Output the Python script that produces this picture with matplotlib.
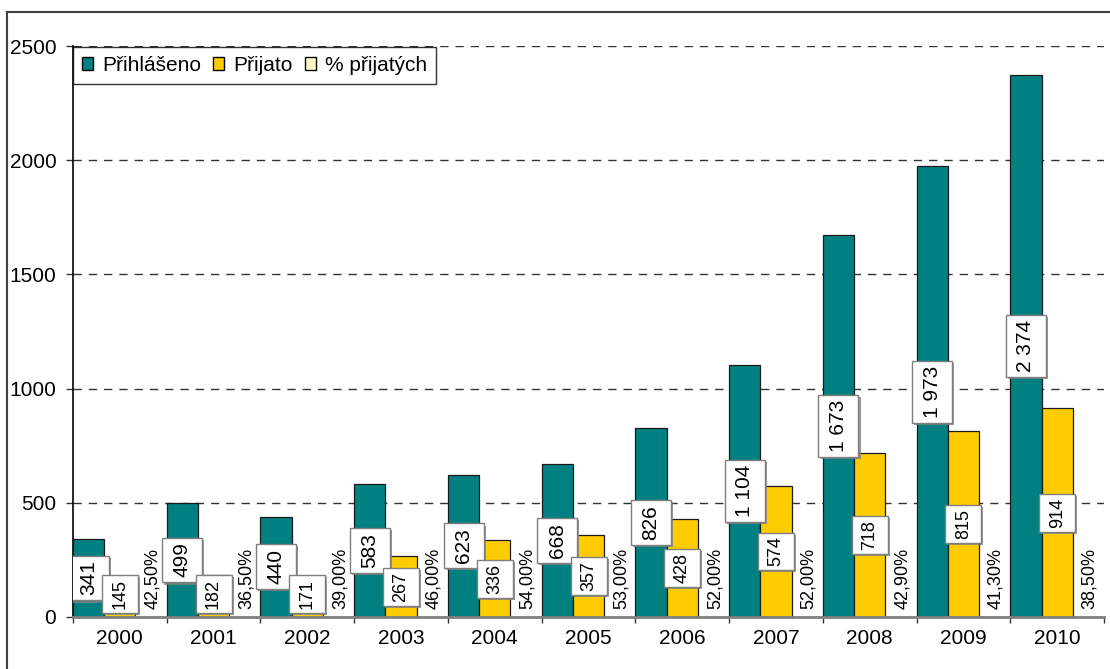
import matplotlib
matplotlib.use("Agg")
import matplotlib.pyplot as plt
import matplotlib.patheffects as pe
from matplotlib.lines import Line2D
from matplotlib.patches import Patch, Rectangle
from matplotlib.transforms import ScaledTranslation
import numpy as np

plt.rcParams['font.family'] = ['Liberation Sans', 'DejaVu Sans']

years = ['2000', '2001', '2002', '2003', '2004', '2005', '2006', '2007', '2008', '2009', '2010']
prihlaseno = [341, 499, 440, 583, 623, 668, 826, 1104, 1673, 1973, 2374]
prijato = [145, 182, 171, 267, 336, 357, 428, 574, 718, 815, 914]
procenta = [0.425, 0.365, 0.39, 0.46, 0.54, 0.53, 0.52, 0.52, 0.429, 0.413, 0.385]
series_names = ['Přihlášeno', 'Přijato', '% přijatých']
yticks = [0, 500, 1000, 1500, 2000, 2500]

c_teal = '#008080'
c_gold = '#FFCC00'
c_pale = '#FFFFCC'

fs_teal, fs_gold, fs_pct = 15, 13, 13

W, H = 1110, 669
DPI = 100
fig = plt.figure(figsize=(W / DPI, H / DPI), dpi=DPI)
ax = fig.add_axes([73 / W, 1 - 617 / H, (1104 - 73) / W, (617 - 46) / H])

n = len(years)
x = np.arange(n)
bw = 1 / 3
left = x - 0.5
ax.bar(left, prihlaseno, width=bw, align='edge', color=c_teal, edgecolor='#1a1a1a', linewidth=0.9, zorder=3)
ax.bar(left + bw, prijato, width=bw, align='edge', color=c_gold, edgecolor='#1a1a1a', linewidth=0.9, zorder=3)
ax.bar(left + 2 * bw, procenta, width=bw, align='edge', color=c_pale, edgecolor='#1a1a1a', linewidth=0.9, zorder=3)

ax.set_xlim(-0.5, n - 0.5)
ax.set_ylim(0, 2500)
ax.set_autoscale_on(False)

ax.set_yticks(yticks)
ax.set_yticklabels([str(v) for v in yticks], fontsize=15)
ax.set_xticks(x)
ax.set_xticklabels(years, fontsize=15)
ax.tick_params(axis='x', length=0, pad=9)
ax.set_xticks(np.arange(n + 1) - 0.5, minor=True)
ax.tick_params(axis='x', which='minor', length=4.5, width=1, color='#333333')
ax.tick_params(axis='y', length=5, width=1, color='#333333', pad=7)

for v in yticks[1:]:
    ax.axhline(v, color='#333333', linewidth=1, dashes=(6, 5), zorder=1)

for s in ['top', 'right']:
    ax.spines[s].set_visible(False)
ax.spines['left'].set_color('black')
ax.spines['left'].set_linewidth(1.2)
ax.spines['bottom'].set_color('#808080')
ax.spines['bottom'].set_linewidth(2)
ax.spines['bottom'].set_zorder(4)

shadow = [pe.SimplePatchShadow(offset=(1.5, -1.5), shadow_rgbFace='#808080', alpha=0.8), pe.Normal()]

def fmt(v):
    return f'{v:,}'.replace(',', ' ')

labels = []
for i in range(n):
    xt = left[i] + bw / 2
    yt = prihlaseno[i] / 2
    t = ax.text(xt, yt, fmt(prihlaseno[i]), rotation=90, ha='center', va='center',
                fontsize=fs_teal, zorder=7)
    labels.append((t, xt, yt, 40, 5))
    xg = left[i] + 1.5 * bw
    yg = max(prijato[i] / 2, 100)
    t = ax.text(xg, yg, fmt(prijato[i]), rotation=90, ha='center', va='center',
                fontsize=fs_gold, zorder=7)
    labels.append((t, xg, yg, 36, 4))
    pct = f'{procenta[i] * 100:.2f}%'.replace('.', ',')
    ax.annotate(pct, (left[i] + 2.5 * bw, 0), xytext=(1, 6), textcoords='offset points',
                rotation=90, ha='center', va='bottom', fontsize=fs_pct, zorder=6)

handles = [Patch(facecolor=c, edgecolor='black', linewidth=1) for c in (c_teal, c_gold, c_pale)]
leg = ax.legend(handles, series_names, loc='upper left', bbox_to_anchor=(0, 0.998), ncol=3,
                fontsize=15, frameon=True, fancybox=False, edgecolor='black', borderpad=0.42,
                handlelength=0.53, handleheight=0.53, handletextpad=0.43, columnspacing=0.6,
                borderaxespad=0)
leg.get_frame().set_linewidth(1)
leg.set_zorder(8)

fig.canvas.draw()
renderer = fig.canvas.get_renderer()
for t, xc, yc, wpx, padv in labels:
    ext = t.get_window_extent(renderer)
    hpx = ext.height + 2 * padv
    tr = fig.dpi_scale_trans + ScaledTranslation(xc, yc, ax.transData)
    rect = Rectangle((-wpx / 2 / DPI, -hpx / 2 / DPI), wpx / DPI, hpx / DPI, transform=tr,
                     facecolor='white', edgecolor='#7f7f7f', linewidth=1, zorder=6)
    rect.set_path_effects(shadow)
    ax.add_patch(rect)

# outer chart border
fig.add_artist(Line2D([7 / W, 7 / W], [0, 1 - 12 / H], transform=fig.transFigure, color='#404040', linewidth=1.5))
fig.add_artist(Line2D([7 / W, 1], [1 - 12 / H, 1 - 12 / H], transform=fig.transFigure, color='#404040', linewidth=1.5))

fig.savefig('out.png', dpi=DPI)
